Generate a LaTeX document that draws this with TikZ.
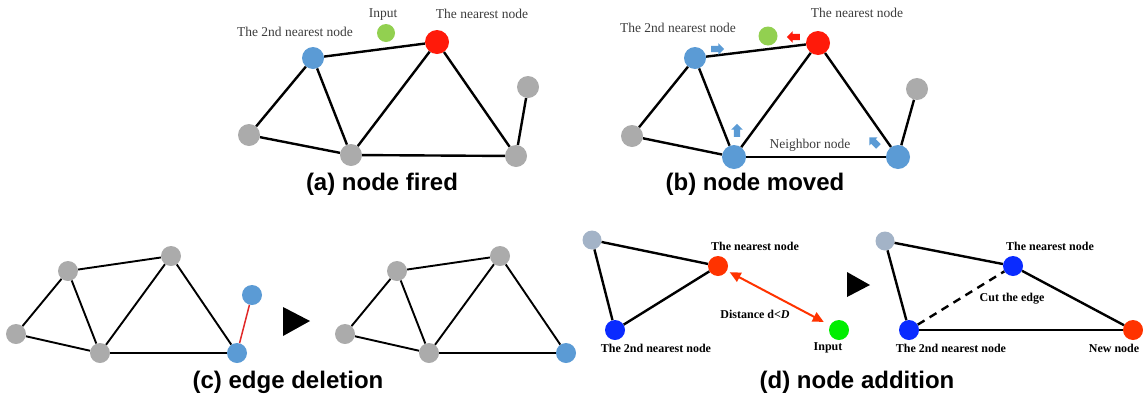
\documentclass[tikz,border=0pt]{standalone}
\usepackage{fontspec}
\setmainfont{Liberation Serif}
\setsansfont{Liberation Sans}
\usetikzlibrary{arrows.meta,shapes.arrows}

\definecolor{nblue}{HTML}{5B9BD5}
\definecolor{ngray}{HTML}{ABABAB}
\definecolor{nred}{HTML}{FF1A0A}
\definecolor{ngreen}{HTML}{92D050}
\definecolor{sgray}{HTML}{A3B3C7}
\definecolor{sred}{HTML}{FF3300}
\definecolor{sblue}{HTML}{0A2BFF}
\definecolor{sgreen}{HTML}{00EE00}
\definecolor{lbl}{HTML}{3C3C3C}
\definecolor{cutred}{HTML}{E02828}

\begin{document}
\begin{tikzpicture}[x=1pt,y=-1pt,
  dot/.style={circle,inner sep=0pt,minimum size=#1},
  dot/.default=22pt,
  edge/.style={line width=2.4pt},
  thinedge/.style={line width=1.9pt},
  lab/.style={font=\fontsize{13.5}{14}\selectfont,text=lbl,inner sep=0pt},
  blab/.style={font=\bfseries\fontsize{12}{13}\selectfont,inner sep=0pt},
  capt/.style={font=\sffamily\bfseries\fontsize{24}{26}\selectfont,inner sep=0pt},
  mv/.style={single arrow,fill=#1,inner xsep=0pt,inner ysep=3pt,
    minimum height=13pt,single arrow head extend=2.6pt},
  mv/.default=nblue]
\useasboundingbox (0,0) rectangle (1143,397);

% ---------- (a) node fired ----------
\node[dot,fill=nblue] (a2) at (313,58) {};
\node[dot=18pt,fill=ngreen] (ain) at (386,33) {};
\node[dot=24pt,fill=nred] (a1) at (437,42) {};
\node[dot,fill=ngray] (atr) at (528,87) {};
\node[dot,fill=ngray] (al) at (249,135) {};
\node[dot,fill=ngray] (abm) at (351,155) {};
\node[dot,fill=ngray] (abr) at (516,156) {};
\draw[edge] (a2) -- (a1);
\draw[edge] (a2) -- (al);
\draw[edge] (a2) -- (abm);
\draw[edge] (a1) -- (abm);
\draw[edge] (a1) -- (abr);
\draw[edge] (al) -- (abm);
\draw[edge] (abm) -- (abr);
\draw[edge] (abr) -- (atr);
\node[lab] (ainl) at (383,15) {Input};
\node[lab] (a1l) at (482,14) {The nearest node};
\node[lab] (a2l) at (295,32) {The 2nd nearest node};
\node[capt] (acap) at (382,184) {(a) node fired};

% ---------- (b) node moved ----------
\node[dot,fill=nblue] (b2) at (695,58) {};
\node[dot=19pt,fill=ngreen] (bin) at (768,36) {};
\node[dot=24pt,fill=nred] (b1) at (818,43) {};
\node[dot,fill=ngray] (btr) at (917,89) {};
\node[dot,fill=ngray] (bl) at (632,136) {};
\node[dot=24pt,fill=nblue] (bbm) at (734,157) {};
\node[dot=24pt,fill=nblue] (bbr) at (898,157) {};
\draw[edge] (b2) -- (b1);
\draw[edge] (b2) -- (bl);
\draw[edge] (b2) -- (bbm);
\draw[edge] (b1) -- (bbm);
\draw[edge] (b1) -- (bbr);
\draw[edge] (bl) -- (bbm);
\draw[edge] (bbm) -- (bbr);
\draw[edge] (bbr) -- (btr);
% movement of the winner and its neighbours towards the input
\node[mv] (bm2) at (716,49) {};
\node[mv=nred,rotate=180] (bm1) at (795,37) {};
\node[mv,rotate=90] (bmbm) at (737,132) {};
\node[mv,rotate=135] (bmbr) at (875,143) {};
\node[lab] (b1l) at (857,13) {The nearest node};
\node[lab] (b2l) at (678,28) {The 2nd nearest node};
\node[lab] (bnl) at (810,145) {Neighbor node};
\node[capt] (bcap) at (755,184) {(b) node moved};

% ---------- (c) edge deletion ----------
\node[dot=20pt,fill=ngray] (cl) at (16,334) {};
\node[dot=20pt,fill=ngray] (ctl) at (68,271) {};
\node[dot=20pt,fill=ngray] (ct) at (171,256) {};
\node[dot=20pt,fill=ngray] (cbm) at (100,353) {};
\node[dot=20pt,fill=nblue] (cbr) at (237,353) {};
\node[dot=20pt,fill=nblue] (cx) at (252,295) {};
\draw[thinedge] (cl) -- (ctl);
\draw[thinedge] (cl) -- (cbm);
\draw[thinedge] (ctl) -- (ct);
\draw[thinedge] (ctl) -- (cbm);
\draw[thinedge] (ct) -- (cbm);
\draw[thinedge] (ct) -- (cbr);
\draw[thinedge] (cbm) -- (cbr);
\draw[line width=1.5pt,cutred] (cbr) -- (cx);
\fill (283,307) -- (283,336) -- (310,321) -- cycle;
\node[dot=20pt,fill=ngray] (dl) at (345,334) {};
\node[dot=20pt,fill=ngray] (dtl) at (397,271) {};
\node[dot=20pt,fill=ngray] (dt) at (500,256) {};
\node[dot=20pt,fill=ngray] (dbm) at (429,353) {};
\node[dot=20pt,fill=nblue] (dbr) at (566,353) {};
\draw[thinedge] (dl) -- (dtl);
\draw[thinedge] (dl) -- (dbm);
\draw[thinedge] (dtl) -- (dt);
\draw[thinedge] (dtl) -- (dbm);
\draw[thinedge] (dt) -- (dbm);
\draw[thinedge] (dt) -- (dbr);
\draw[thinedge] (dbm) -- (dbr);
\node[capt] (ccap) at (288,382) {(c) edge deletion};

% ---------- (d) node addition ----------
\node[dot=19pt,fill=sgray] (el) at (592,240) {};
\node[dot=20pt,fill=sred] (e1) at (718,266) {};
\node[dot=20pt,fill=sblue] (e2) at (615,330) {};
\node[dot=20pt,fill=sgreen] (ein) at (839,330) {};
\draw[edge] (el) -- (e1);
\draw[edge] (el) -- (e2);
\draw[edge] (e2) -- (e1);
\draw[line width=2pt,sred,{Triangle[length=11pt,width=10pt]}-{Triangle[length=11pt,width=10pt]},
  shorten <=3pt,shorten >=7pt] (e1) -- (ein);
\node[blab] (e1l) at (755,246) {The nearest node};
\node[blab] (edl) at (755,314) {Distance d<\textit{D}};
\node[blab] (e2l) at (656,348) {The 2nd nearest node};
\node[blab] (einl) at (828,348) {Input};
\fill (847,272) -- (847,297) -- (870,285) -- cycle;
\node[dot=19pt,fill=sgray] (fl) at (885,241) {};
\node[dot=20pt,fill=sblue] (f1) at (1013,266) {};
\node[dot=20pt,fill=sblue] (f2) at (909,330) {};
\node[dot=20pt,fill=sred] (fn) at (1133,330) {};
\draw[edge] (fl) -- (f1);
\draw[edge] (fl) -- (f2);
\draw[edge] (f1) -- (fn);
\draw[edge] (f2) -- (fn);
\draw[edge,dashed,dash pattern=on 8pt off 6pt] (f2) -- (f1);
\node[blab] (f1l) at (1050,246) {The nearest node};
\node[blab] (fcl) at (1012,299) {Cut the edge};
\node[blab] (f2l) at (951,348) {The 2nd nearest node};
\node[blab] (fnl) at (1114,348) {New node};
\node[capt] (dcap) at (857,382) {(d) node addition};
\end{tikzpicture}
\end{document}
